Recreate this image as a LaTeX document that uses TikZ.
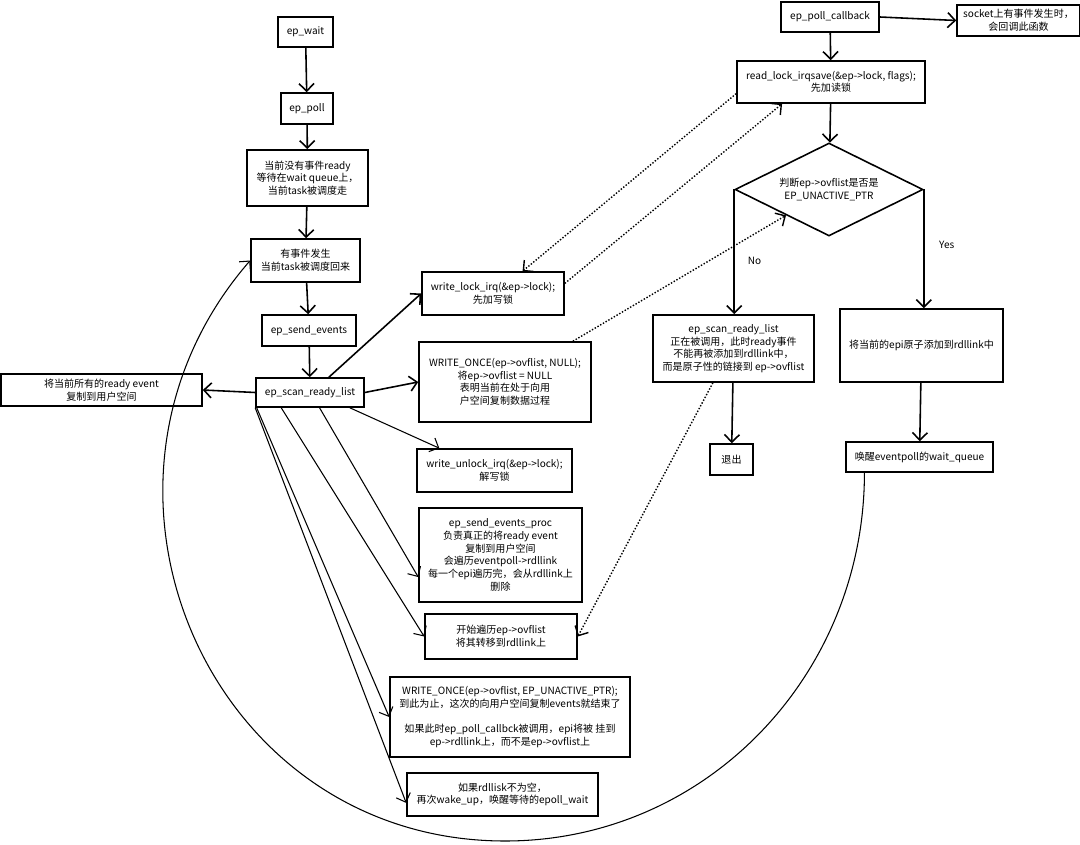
\documentclass[tikz,border=0pt]{standalone}
\usepackage{fontspec}
\setmainfont{Noto Sans CJK SC}
\usetikzlibrary{shapes.geometric,arrows.meta}
\begin{document}
\begin{tikzpicture}[
  >={Straight Barb[length=1.5mm,width=3mm]},
  font=\fontsize{5.7}{7.2}\selectfont,
  box/.style={draw, line width=0.9pt, align=center, inner sep=1pt},
  cond/.style={draw, diamond, aspect=2, line width=0.9pt, align=center, inner sep=0pt},
  arr/.style={->, line width=0.9pt},
  link/.style={->, line width=0.6pt},
  dots/.style={->, densely dotted, line width=0.8pt}
]
\useasboundingbox (0,0) rectangle (21.6,-16.9);
\node[box, minimum width=1.10cm, minimum height=0.60cm] (wait) at (6.11,-0.64) {ep\_wait};
\node[box, minimum width=1.04cm, minimum height=0.62cm] (poll) at (6.14,-2.17) {ep\_poll};
\node[box, minimum width=2.42cm, minimum height=1.12cm] (idle) at (6.15,-3.56) {当前没有事件ready\\等待在wait queue上，\\当前task被调度走};
\node[box, minimum width=2.18cm, minimum height=0.86cm] (happen) at (6.11,-5.21) {有事件发生\\当前task被调度回来};
\node[box, minimum width=1.88cm, minimum height=0.62cm] (send) at (6.18,-6.61) {ep\_send\_events};
\node[box, minimum width=2.16cm, minimum height=0.58cm] (scan) at (6.20,-7.85) {ep\_scan\_ready\_list};
\node[box, minimum width=4.02cm, minimum height=0.64cm] (copy) at (2.03,-7.80) {将当前所有的ready event\\复制到用户空间};
\node[box, minimum width=2.84cm, minimum height=0.86cm] (wlock) at (9.86,-5.87) {write\_lock\_irq(\&ep->lock);\\先加写锁};
\node[box, minimum width=3.44cm, minimum height=1.60cm] (wonce) at (10.10,-7.64) {WRITE\_ONCE(ep->ovflist, NULL);\\将ep->ovflist = NULL\\表明当前在处于向用\\户空间复制数据过程};
\node[box, minimum width=3.10cm, minimum height=0.86cm] (wunlock) at (9.89,-9.41) {write\_unlock\_irq(\&ep->lock);\\解写锁};
\node[box, minimum width=3.26cm, minimum height=1.88cm] (proc) at (10.01,-11.10) {ep\_send\_events\_proc\\负责真正的将ready event\\复制到用户空间\\会遍历eventpoll->rdllink\\每一个epi遍历完，会从rdllink上\\删除};
\node[box, minimum width=3.04cm, minimum height=0.90cm] (ovf) at (10.02,-12.73) {开始遍历ep->ovflist\\将其转移到rdllink上};
\node[box, minimum width=4.80cm, minimum height=1.60cm] (unact) at (10.20,-14.34) {WRITE\_ONCE(ep->ovflist, EP\_UNACTIVE\_PTR);\\到此为止，这次的向用户空间复制events就结束了\\[7.2pt]如果此时ep\_poll\_callbck被调用，epi将被 挂到\\ep->rdllink上，而不是ep->ovflist上};
\node[box, minimum width=3.82cm, minimum height=0.86cm] (again) at (10.05,-15.89) {如果rdllisk不为空，\\再次wake\_up，唤醒等待的epoll\_wait};
\node[box, minimum width=1.96cm, minimum height=0.60cm] (cb) at (16.60,-0.34) {ep\_poll\_callback};
\node[box, minimum width=2.46cm, minimum height=0.62cm] (sock) at (20.37,-0.41) {socket上有事件发生时，\\会回调此函数};
\node[box, minimum width=3.76cm, minimum height=0.84cm] (rlock) at (16.62,-1.64) {read\_lock\_irqsave(\&ep->lock, flags);\\先加读锁};
\node[cond, minimum width=3.76cm, minimum height=1.86cm] (judge) at (16.58,-3.79) {判断ep->ovflist是否是\\EP\_UNACTIVE\_PTR};
\node[box, minimum width=3.22cm, minimum height=1.34cm] (scanr) at (14.67,-6.97) {ep\_scan\_ready\_list\\正在被调用，此时ready事件\\不能再被添加到rdllink中，\\而是原子性的链接到 ep->ovflist};
\node[box, minimum width=0.86cm, minimum height=0.62cm] (quit) at (14.63,-9.19) {退出};
\node[box, minimum width=3.26cm, minimum height=1.46cm] (add) at (18.43,-6.91) {将当前的epi原子添加到rdllink中};
\node[box, minimum width=2.94cm, minimum height=0.60cm] (wake) at (18.39,-9.14) {唤醒eventpoll的wait\_queue};
\coordinate (loopbtm) at (10.10,-16.82);
\draw[arr] (wait) -- (poll);
\draw[arr] (poll) -- (idle);
\draw[arr] (idle) -- (happen);
\draw[arr] (happen) -- (send);
\draw[arr] (send) -- (scan);
\draw[arr] (scan.west) -- (copy.east);
\draw[arr] (scan.39) -- (wlock.west);
\draw[arr] (scan.east) -- (wonce.west);
\draw[link] (scan.-21) -- (wunlock.158);
\draw[link] (scan.-58) -- (proc.195);
\draw[link] (scan.-152) -- (ovf.west);
\draw[link] (scan.-164) -- (unact.west);
\draw[link] (scan.south west) -- (again.185);
\draw[arr] (cb.east) -- (sock.west);
\draw[arr] (cb) -- (rlock);
\draw[arr] (rlock) -- (judge);
\draw[arr] (judge.west) -- node[pos=0.57, right=4pt] {No} (judge.west |- scanr.north);
\draw[arr] (judge.east) -- node[pos=0.47, right=5pt] {Yes} (judge.east |- add.north);
\draw[arr] (scanr) -- (quit);
\draw[arr] (add) -- (wake);
\draw[dots] (rlock.187) -- (wlock.37);
\draw[dots] (wlock.8) -- (rlock.204);
\draw[dots] (wonce.31) -- (judge.211);
\draw[dots] (scanr.239) -- (ovf.east);
\draw[link] (wake.196) to[out=-90,in=0] (loopbtm) to[out=180,in=-131,looseness=1.2] (happen.west);
\end{tikzpicture}
\end{document}
